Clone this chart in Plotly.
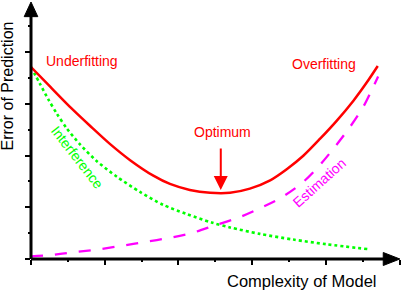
import plotly.graph_objects as go

# ---- data ----
complexity_total = [0, 0.52, 1.10, 1.60, 2.14, 2.69, 3.32, 3.77, 4.31, 4.86, 5.40, 5.94, 6.49, 6.94, 7.39, 7.84, 8.30, 8.75, 9.11, 9.41]
total_error = [7.42, 6.66, 5.82, 5.15, 4.45, 3.82, 3.22, 2.90, 2.67, 2.56, 2.56, 2.72, 3.04, 3.47, 3.99, 4.64, 5.35, 6.12, 6.82, 7.46]

complexity_interf = [0, 0.24, 0.47, 0.70, 0.97, 1.33, 1.78, 2.33, 2.96, 3.59, 4.22, 4.90, 5.40, 6.21, 7.12, 8.02, 9.15]
interference = [7.42, 6.78, 6.17, 5.62, 5.05, 4.43, 3.79, 3.18, 2.59, 2.09, 1.74, 1.41, 1.22, 0.97, 0.75, 0.57, 0.38]

complexity_estim = [0, 0.52, 1.15, 1.83, 2.46, 3.09, 3.73, 4.40, 4.99, 5.63, 6.21, 6.80, 7.35, 7.80, 8.25, 8.66, 9.02, 9.29, 9.42]
estimation = [0.10, 0.15, 0.26, 0.37, 0.51, 0.66, 0.81, 1.02, 1.30, 1.60, 1.96, 2.38, 2.93, 3.57, 4.34, 5.11, 5.89, 6.66, 7.05]

optimum_x = 5.15
optimum_y = 2.67

FONT = "Liberation Sans, Arial, sans-serif"
RED = "#ff0000"
GREEN = "#00ff00"
MAGENTA = "#ff00ff"

fig = go.Figure()
fig.add_trace(go.Scatter(x=complexity_interf, y=interference, mode="lines",
                         line=dict(color=GREEN, width=2.6, dash="3px,3px", shape="spline", smoothing=0.8),
                         hoverinfo="skip"))
fig.add_trace(go.Scatter(x=complexity_estim, y=estimation, mode="lines",
                         line=dict(color=MAGENTA, width=2.3, dash="12px,12px", shape="spline", smoothing=0.8),
                         hoverinfo="skip"))
fig.add_trace(go.Scatter(x=complexity_total, y=total_error, mode="lines",
                         line=dict(color=RED, width=2.5, shape="spline", smoothing=0.8),
                         hoverinfo="skip"))

# axis lines with arrowheads
shapes = [
    dict(type="line", xref="paper", yref="paper", x0=0, y0=0, x1=0, y1=0.95,
         line=dict(color="black", width=3)),
    dict(type="line", xref="paper", yref="paper", x0=0, y0=0, x1=0.955, y1=0,
         line=dict(color="black", width=3)),
    dict(type="path", xref="paper", yref="paper",
         path="M -0.0184,0.943 L 0.0184,0.943 L 0,1.0 Z",
         fillcolor="black", line=dict(color="black", width=1)),
    dict(type="path", xref="paper", yref="paper",
         path="M 0.952,0.0253 L 0.952,-0.0253 L 0.997,0 Z",
         fillcolor="black", line=dict(color="black", width=1)),
]

annotations = [
    dict(text="Underfitting", x=(81.5 - 31) / 370, y=(259 - 61) / 257, xref="paper", yref="paper",
         showarrow=False, font=dict(family=FONT, size=14, color=RED), xanchor="center", yanchor="middle"),
    dict(text="Overfitting", x=(323.8 - 31) / 370, y=(259 - 64.4) / 257, xref="paper", yref="paper",
         showarrow=False, font=dict(family=FONT, size=14, color=RED), xanchor="center", yanchor="middle"),
    dict(text="Optimum", x=(222.3 - 31) / 370, y=(259 - 131.8) / 257, xref="paper", yref="paper",
         showarrow=False, font=dict(family=FONT, size=14, color=RED), xanchor="center", yanchor="middle"),
    dict(text="", x=optimum_x, y=optimum_y, xref="x", yref="y", ax=0, ay=-43,
         showarrow=True, arrowhead=2, arrowwidth=2, arrowsize=1.4, arrowcolor=RED),
    dict(text="Interference", x=(77 - 31) / 370, y=(259 - 157) / 257, xref="paper", yref="paper",
         showarrow=False, textangle=52, font=dict(family=FONT, size=14, color=GREEN),
         xanchor="center", yanchor="middle"),
    dict(text="Estimation", x=(319 - 31) / 370, y=(259 - 183.3) / 257, xref="paper", yref="paper",
         showarrow=False, textangle=-42, font=dict(family=FONT, size=14, color=MAGENTA),
         xanchor="center", yanchor="middle"),
    dict(text="Complexity of Model", x=(301.5 - 31) / 370, y=(259 - 281.4) / 257, xref="paper", yref="paper",
         showarrow=False, font=dict(family=FONT, size=16.5, color="black"), xanchor="center", yanchor="middle"),
    dict(text="Error of Prediction", x=(7.5 - 31) / 370, y=(259 - 86) / 257, xref="paper", yref="paper",
         showarrow=False, textangle=-90, font=dict(family=FONT, size=16, color="black"),
         xanchor="center", yanchor="middle"),
]

fig.update_layout(
    width=401, height=292,
    margin=dict(l=31, r=0, t=2, b=33, pad=0),
    paper_bgcolor="white", plot_bgcolor="white",
    showlegend=False,
    shapes=shapes, annotations=annotations,
    xaxis=dict(range=[0, 370 / 36.85], showgrid=False, zeroline=False, showline=False,
               showticklabels=False, ticks="outside", tickmode="linear", tick0=0, dtick=2,
               ticklen=5, tickwidth=2, tickcolor="black",
               minor=dict(tickmode="linear", tick0=0, dtick=1, ticks="outside", ticklen=2, tickwidth=2, tickcolor="black")),
    yaxis=dict(range=[0, 257 / 25.875], showgrid=False, zeroline=False, showline=False,
               showticklabels=False, ticks="outside", tickmode="linear", tick0=0, dtick=2,
               ticklen=5, tickwidth=2, tickcolor="black",
               minor=dict(tickmode="linear", tick0=0, dtick=1, ticks="outside", ticklen=2, tickwidth=2, tickcolor="black")),
)

fig.write_html("out.html")
